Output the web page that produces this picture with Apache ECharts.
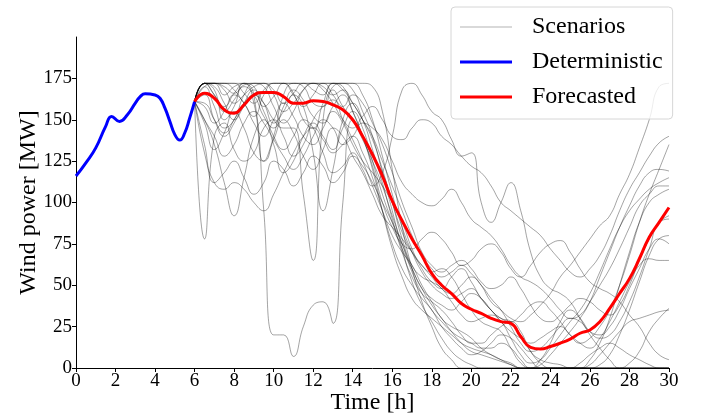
<!DOCTYPE html>
<html>
<head>
<meta charset="utf-8">
<script src="https://cdn.jsdelivr.net/npm/echarts@6/dist/echarts.min.js"></script>
<style>html,body{margin:0;padding:0;background:#fff}#c{width:712px;height:418px}</style>
</head>
<body>
<div id="c"></div>
<script>
// ---- data ----
const xTicks = [0,2,4,6,8,10,12,14,16,18,20,22,24,26,28,30];
const yTicks = [0,25,50,75,100,125,150,175];

const detT = [0,0.5,1,1.5,1.8,2.2,2.6,3,3.25,3.5,4,4.25,4.5,4.75,5,5.25,5.5,5.75,6];
const detV = [116,124,133,146,152,149,153,160,164,165.7,165,163,157,149,141,137.7,142,151,161];

// half-hour grid from 6 h to 30 h
const scenT = [6,6.5,7,7.5,8,8.5,9,9.5,10,10.5,11,11.5,12,12.5,13,13.5,14,14.5,15,15.5,16,16.5,17,17.5,18,18.5,19,19.5,20,20.5,21,21.5,22,22.5,23,23.5,24,24.5,25,25.5,26,26.5,27,27.5,28,28.5,29,29.5,30];

const forecastV = [161,166,163,156,154,159, 165,166.5,166.5,164,160,160, 161.5,161,159,156,150,140, 129,116,101,89,78,68, 57,50,45,39,35.5,33, 30,28,27,19,12.5,11.5, 13,15,17.5,21,23,28, 36,45,54,66,79,88, 97];

const scen1  = [161,170,172,172,172,172, 172,172,172,172,172,172, 172,172,172,172,172,172, 170,155,120,85,60,40, 25,12,5,0,0,0, 0,0,0,0,0,0, 0,0,0,0,0,0, 0,0,3,10,22,30, 36];
const scen2  = [161,172,172,170,166,171, 172,172,168,160,166,172, 172,170,165,168,160,150, 140,125,110,95,80,68, 60,55,58,62,57,50, 40,35,30,28,32,38, 45,55,62,70,78,86, 92,105,117,133,150,170, 172];
const scen3  = [161,78,140,148,132,125, 130,145,150,140,128,135, 150,158,162,150,138,125, 110,95,80,70,62,50, 40,30,25,22,18,12, 8,5,3,0,0,2, 8,15,22,30,40,55, 70,85,98,110,118,120, 119];
const scen4  = [161,150,135,112,92,115, 140,150,135,118,125,140, 148,140,132,145,155,145, 125,105,88,72,60,48, 42,38,35,40,45,42, 35,28,22,18,15,18, 22,25,20,15,12,18, 28,40,52,62,66,65, 65];
const scen5  = [161,172,165,158,166,172, 165,95,20,20,7,25, 38,40,27,100,150,140, 128,118,100,82,70,62, 58,60,55,45,35,28, 25,22,12,3,0,5, 15,28,35,30,22,18, 20,28,40,55,72,88, 90];
const scen6  = [161,160,150,142,150,160, 165,155,140,132,140,150, 145,130,118,122,130,120, 110,118,140,168,172,165, 155,150,138,128,130,100, 88,100,112,95,70,55, 48,45,40,30,20,12, 5,0,0,0,0,0, 0];
const scen7  = [161,172,172,168,160,165, 170,172,165,155,160,168, 172,168,160,150,145,152, 158,150,140,138,145,150, 148,140,135,128,122,118, 110,100,95,90,85,80, 72,65,58,55,60,68, 80,95,108,118,128,136, 140];
const scen8  = [161,135,112,118,125,115, 105,112,125,120,110,118, 128,122,112,118,128,122, 112,100,88,75,60,48, 38,30,22,15,10,8, 6,4,2,0,0,0, 0,0,0,0,2,8, 15,22,28,30,32,34, 35];
const scen9  = [161,172,168,150,158,172, 170,158,164,172,166,150, 145,160,172,170,155,140, 120,95,72,55,42,35, 30,25,20,15,12,10, 8,5,2,0,0,0, 0,0,0,0,0,0, 0,0,0,0,0,0, 0];
const scen10 = [161,172,172,172,168,160, 152,165,172,172,165,158, 165,172,172,168,160,150, 138,120,100,78,62,55, 52,48,40,32,28,30, 32,28,18,8,3,5, 12,20,28,35,45,58, 72,85,95,102,108,112, 115];
const scen11 = [161,148,132,142,155,145, 130,125,138,150,142,128, 120,132,145,140,128,118, 105,92,85,78,70,62, 55,48,45,50,55,50, 42,35,25,15,10,12, 18,25,30,28,22,20, 25,35,48,60,72,78, 75];
const scen12 = [161,172,170,160,150,158, 165,160,150,145,145,105, 65,150,168,158,150,138, 125,110,92,75,58,45, 35,28,22,18,15,12, 12,15,12,5,0,0, 0,0,0,0,0,0, 0,0,0,0,0,0, 0];
const scen13 = [161,165,150,140,148,160, 168,160,148,155,165,158, 130,95,120,150,160,150, 132,112,90,70,55,45, 40,35,28,20,15,15, 20,25,28,22,10,5, 3,2,0,0,5,15, 30,50,70,88,100,105, 108];
const scen14 = [161,172,172,172,172,166, 160,168,172,172,172,172, 168,165,172,172,172,165, 150,128,105,85,70,58, 50,45,42,45,48,42, 35,30,28,20,10,3, 0,0,0,3,8,12, 15,12,8,5,2,0, 0];
const scen15 = [161,130,112,108,112,108, 100,95,105,118,130,140, 145,138,130,135,140,130, 115,95,75,60,50,42, 35,25,18,12,8,10, 15,20,18,12,5,0, 0,0,0,0,0,0, 0,0,0,0,0,0, 0];
const scen16 = [161,170,158,145,150,165, 172,170,158,148,155,168, 172,172,165,158,165,160, 148,135,118,100,85,70, 62,58,62,65,60,52, 48,50,55,48,38,30, 28,32,38,42,40,35, 32,38,50,65,78,88, 92];
const scen17 = [161,158,148,155,165,160, 148,140,150,160,152,140, 135,145,155,148,135,125, 118,110,100,88,72,60, 52,48,55,60,52,42, 35,30,28,32,38,40, 35,28,20,15,18,25, 35,50,68,88,105,120, 135];
const scen18 = [161,172,165,155,162,170, 165,152,145,158,168,162, 152,148,158,165,155,140, 122,100,85,75,72,78, 82,78,70,62,65,72, 75,70,60,55,62,70, 75,77,70,60,52,48, 45,40,32,25,15,8, 5];
const scen19 = [161,150,140,128,135,148, 155,148,138,128,120,128, 140,150,145,135,140,148, 145,138,125,112,105,100, 98,102,108,100,90,85, 80,72,62,55,52,48, 42,35,30,32,40,50, 60,72,85,98,105,110, 110];
const scen20 = [161,172,172,165,170,172, 160,125,140,165,172,170, 160,158,170,172,168,155, 140,118,95,72,52,38, 28,18,10,5,2,0, 0,0,0,0,0,0, 0,0,0,0,0,2, 8,20,35,52,68,78, 80];

const scenarios = [scen1,scen2,scen3,scen4,scen5,scen6,scen7,scen8,scen9,scen10,scen11,scen12,scen13,scen14,scen15,scen16,scen17,scen18,scen19,scen20];

// ---- chart ----
const FONT = '"Liberation Serif", "Times New Roman", serif';
const pair = (ts, vs) => vs.map((v, i) => [ts[i], v]);
const SCEN_COLOR = 'rgba(0,0,0,0.36)';

const series = scenarios.map(s => ({
  name: 'Scenarios', type: 'line', data: pair(scenT, s), smooth: true,
  symbol: 'none', z: 2, silent: true,
  lineStyle: { color: SCEN_COLOR, width: 1 },
  itemStyle: { color: SCEN_COLOR }
}));
series.push({
  name: 'Deterministic', type: 'line', data: pair(detT, detV), smooth: true,
  symbol: 'none', z: 5, lineStyle: { color: '#0000ff', width: 3 }, itemStyle: { color: '#0000ff' }
});
series.push({
  name: 'Forecasted', type: 'line', data: pair(scenT, forecastV), smooth: true,
  symbol: 'none', z: 5, lineStyle: { color: '#ff0000', width: 3 }, itemStyle: { color: '#ff0000' }
});

const chart = echarts.init(document.getElementById('c'), null, { renderer: 'canvas' });
chart.setOption({
  animation: false,
  backgroundColor: '#fff',
  grid: { left: 76, right: 43, top: 37, bottom: 50, containLabel: false, outerBoundsMode: 'none' },
  legend: {
    data: [
      { name: 'Scenarios', icon: 'path://M0 0H52V1H0Z', itemStyle: { color: 'rgba(0,0,0,0.3)' } },
      { name: 'Deterministic', icon: 'path://M0 0H52V3H0Z', itemStyle: { color: '#0000ff' } },
      { name: 'Forecasted', icon: 'path://M0 0H52V3H0Z', itemStyle: { color: '#ff0000' } }
    ],
    orient: 'vertical', left: 451, top: 7,
    itemWidth: 52, itemHeight: 14, itemGap: 9,
    padding: [7, 10, 9, 9],
    backgroundColor: 'rgba(255,255,255,0.8)',
    borderColor: '#d6d6d6', borderWidth: 1, borderRadius: 4,
    textStyle: { fontFamily: FONT, fontSize: 24, color: '#000', lineHeight: 26, padding: [0, 0, 0, 15] }
  },
  xAxis: {
    type: 'value', min: 0, max: 30, interval: 2,
    name: 'Time [h]', nameLocation: 'middle', nameGap: 23, nameMoveOverlap: false,
    nameTextStyle: { fontFamily: FONT, fontSize: 24, color: '#000' },
    axisLine: { lineStyle: { color: '#000', width: 1 } },
    axisTick: { show: true, length: 4, lineStyle: { color: '#000' } },
    axisLabel: { fontFamily: FONT, fontSize: 19, color: '#000', margin: 4, customValues: xTicks },
    splitLine: { show: false }
  },
  yAxis: {
    type: 'value', min: 0, max: 200, interval: 25,
    name: 'Wind power [MW]', nameLocation: 'middle', nameGap: 35, nameMoveOverlap: false,
    nameTextStyle: { fontFamily: FONT, fontSize: 24, color: '#000' },
    axisLine: { show: true, lineStyle: { color: '#000', width: 1 } },
    axisTick: { show: true, length: 4, lineStyle: { color: '#000' }, customValues: yTicks },
    axisLabel: { fontFamily: FONT, fontSize: 19, color: '#000', margin: 4, customValues: yTicks },
    splitLine: { show: false }
  },
  series: series
});
</script>
</body>
</html>
